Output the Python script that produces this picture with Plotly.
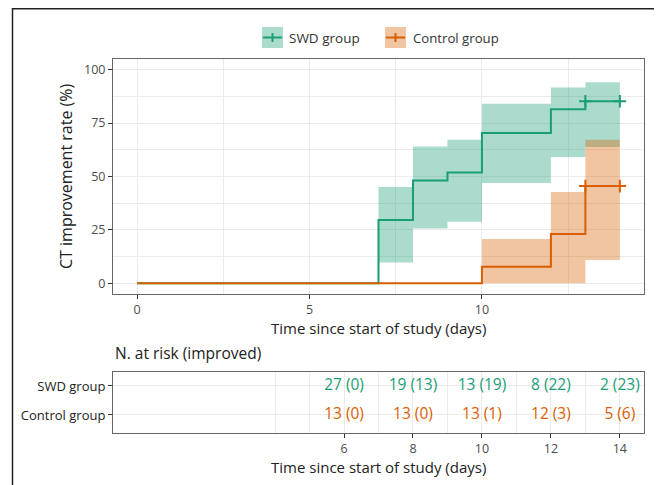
import plotly.graph_objects as go

# ---------------- data ----------------
swd_times = [0, 7, 8, 9, 10, 12, 13, 14]
swd_rate = [0, 29.6, 48.1, 51.9, 70.4, 81.5, 85.2, 85.2]
swd_ci_times = [7, 8, 9, 10, 12, 13, 14]
swd_ci_upper = [45.1, 64.1, 67.2, 84.0, 91.7, 94.1, 94.1]
swd_ci_lower = [9.8, 25.7, 28.8, 47.0, 59.1, 63.8, 63.8]
swd_censor_times = [13, 14]

ctl_times = [0, 10, 12, 13, 14]
ctl_rate = [0, 7.7, 23.1, 45.5, 45.5]
ctl_ci_times = [10, 12, 13, 14]
ctl_ci_upper = [20.7, 42.8, 67.2, 67.2]
ctl_ci_lower = [0, 0, 10.9, 10.9]
ctl_censor_times = [13, 14]

risk_times = [6, 8, 10, 12, 14]
swd_at_risk = [27, 19, 13, 8, 2]
swd_improved = [0, 13, 19, 22, 23]
ctl_at_risk = [13, 13, 13, 12, 5]
ctl_improved = [0, 0, 1, 3, 6]

groups = ["SWD group", "Control group"]
main_xticks = [0, 5, 10]
main_yticks = [0, 25, 50, 75, 100]
table_xticks = [6, 8, 10, 12, 14]

# ---------------- style ----------------
# page body has an 8px default margin, so the figure sits at (8, 8)
OX, OY = 8, 8
W, H = 662 - OX, 485 - OY
GREEN = "#1b9e77"
ORANGE = "#d95f02"
GREEN_FILL = "rgba(27,158,119,0.37)"
ORANGE_FILL = "rgba(217,95,2,0.37)"
FONT = "Open Sans"
TICKCOL = "#4d4d4d"
GRID = "#ebebeb"
BORDER = "#666666"


def px(x):
    return (x - OX) / W


def py(y):
    return 1 - (y - OY) / H


fig = go.Figure()


def band(times, upper, lower, fill):
    fig.add_trace(go.Scatter(x=times, y=lower, mode="lines", line=dict(width=0, shape="hv"),
                             hoverinfo="skip", showlegend=False, xaxis="x", yaxis="y"))
    fig.add_trace(go.Scatter(x=times, y=upper, mode="lines", line=dict(width=0, shape="hv"),
                             fill="tonexty", fillcolor=fill, hoverinfo="skip", showlegend=False,
                             xaxis="x", yaxis="y"))


band(swd_ci_times, swd_ci_upper, swd_ci_lower, GREEN_FILL)
band(ctl_ci_times, ctl_ci_upper, ctl_ci_lower, ORANGE_FILL)

fig.add_trace(go.Scatter(x=swd_times, y=swd_rate, mode="lines", line=dict(color=GREEN, width=2, shape="hv"),
                         showlegend=False))
fig.add_trace(go.Scatter(x=ctl_times, y=ctl_rate, mode="lines", line=dict(color=ORANGE, width=2, shape="hv"),
                         showlegend=False))

fig.add_trace(go.Scatter(x=swd_censor_times, y=[swd_rate[-1]] * len(swd_censor_times), mode="markers",
                         marker=dict(symbol="cross-thin", size=9, line=dict(color=GREEN, width=2)),
                         showlegend=False, cliponaxis=False))
fig.add_trace(go.Scatter(x=ctl_censor_times, y=[ctl_rate[-1]] * len(ctl_censor_times), mode="markers",
                         marker=dict(symbol="cross-thin", size=9, line=dict(color=ORANGE, width=2)),
                         showlegend=False, cliponaxis=False))

# risk table
fig.add_trace(go.Scatter(x=risk_times, y=[2] * len(risk_times), mode="text",
                         text=[f"{n} ({e})" for n, e in zip(swd_at_risk, swd_improved)],
                         textfont=dict(family=FONT, size=15.5, color=GREEN), showlegend=False,
                         cliponaxis=False, xaxis="x2", yaxis="y2"))
fig.add_trace(go.Scatter(x=risk_times, y=[1] * len(risk_times), mode="text",
                         text=[f"{n} ({e})" for n, e in zip(ctl_at_risk, ctl_improved)],
                         textfont=dict(family=FONT, size=15.5, color=ORANGE), showlegend=False,
                         cliponaxis=False, xaxis="x2", yaxis="y2"))

axis_common = dict(showline=True, mirror=True, linecolor=BORDER, linewidth=1,
                   ticks="outside", ticklen=4, tickwidth=1, tickcolor="#333333",
                   tickfont=dict(family=FONT, size=12.5, color=TICKCOL),
                   gridcolor=GRID, gridwidth=1, zeroline=False, fixedrange=True)

fig.update_layout(
    width=W, height=H,
    margin=dict(l=0, r=0, t=0, b=0),
    paper_bgcolor="white", plot_bgcolor="white",
    font=dict(family=FONT, color="#222222"),
    showlegend=False,
    xaxis=dict(domain=[px(113), px(644)], range=[-0.7, 14.7], tickvals=main_xticks,
               minor=dict(tickvals=[2.5, 7.5, 12.5], showgrid=True, gridcolor=GRID, gridwidth=0.6, ticks=""),
               anchor="y", **axis_common),
    yaxis=dict(domain=[py(294), py(59)], range=[-5, 105], tickvals=main_yticks,
               minor=dict(tickvals=[12.5, 37.5, 62.5, 87.5], showgrid=True, gridcolor=GRID, gridwidth=0.6, ticks=""),
               anchor="x", **axis_common),
    xaxis2=dict(domain=[px(113), px(644)], range=[-0.7, 14.7], tickvals=table_xticks,
                minor=dict(tickvals=[4, 5, 7, 9, 11, 13], showgrid=True, gridcolor=GRID, gridwidth=0.6, ticks=""),
                anchor="y2", **axis_common),
    yaxis2=dict(domain=[py(433), py(372)], range=[0.38, 2.48], tickvals=[2, 1], ticktext=groups,
                anchor="x2", **{**axis_common, "tickfont": dict(family=FONT, size=13, color="#222222")}),
)

annotations = [
    dict(text="CT improvement rate (%)", x=px(66), y=py(176), textangle=-90,
         font=dict(size=16, color="#222222")),
    dict(text="Time since start of study (days)", x=px(378.5), y=py(327.5),
         font=dict(size=15, color="#222222")),
    dict(text="Time since start of study (days)", x=px(378.5), y=py(466.5),
         font=dict(size=15, color="#222222")),
    dict(text="N. at risk (improved)", x=px(113), y=py(353), xanchor="left",
         font=dict(size=15.5, color="#222222")),
    dict(text="SWD group", x=px(287), y=py(38), xanchor="left",
         font=dict(size=13.5, color="#333333")),
    dict(text="Control group", x=px(411), y=py(38), xanchor="left",
         font=dict(size=13.2, color="#333333")),
]
for a in annotations:
    a.update(xref="paper", yref="paper", showarrow=False)
    a.setdefault("xanchor", "center")
    a.setdefault("yanchor", "middle")
fig.update_layout(annotations=annotations)

shapes = []
# outer frame (left, top, right)
shapes.append(dict(type="path", xref="paper", yref="paper",
                   path=f"M {px(12.5)},{py(490)} L {px(12.5)},{py(8.8)} L {px(660.8)},{py(8.8)} L {px(660.8)},{py(490)}",
                   line=dict(color="#222222", width=1.5)))
# legend keys
for x0, col, fillc in [(262, GREEN, GREEN_FILL), (385, ORANGE, ORANGE_FILL)]:
    shapes.append(dict(type="rect", xref="paper", yref="paper", x0=px(x0), x1=px(x0 + 21),
                       y0=py(48), y1=py(27), fillcolor=fillc, line=dict(width=0)))
    shapes.append(dict(type="line", xref="paper", yref="paper", x0=px(x0 + 1), x1=px(x0 + 20),
                       y0=py(37.5), y1=py(37.5), line=dict(color=col, width=2)))
    shapes.append(dict(type="line", xref="paper", yref="paper", x0=px(x0 + 10.5), x1=px(x0 + 10.5),
                       y0=py(33), y1=py(42), line=dict(color=col, width=2)))
fig.update_layout(shapes=shapes)

fig.write_html("out.html")
